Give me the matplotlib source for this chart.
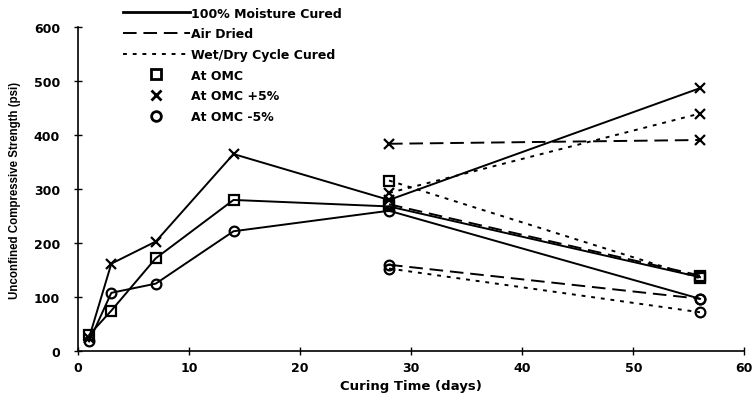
import matplotlib.pyplot as plt
from matplotlib.lines import Line2D

plt.rcParams['font.family'] = ['DejaVu Sans']
plt.rcParams['font.weight'] = 'bold'

# curing times (days)
days_full = [1, 3, 7, 14, 28, 56]
days_late = [28, 56]

# 100% moisture cured
moist_omc = [30, 75, 172, 280, 268, 137]
moist_plus = [25, 162, 203, 365, 280, 487]
moist_minus = [18, 108, 125, 222, 260, 97]

# air dried
air_omc = [272, 140]
air_plus = [384, 391]
air_minus = [160, 97]

# wet/dry cycle cured
wd_omc = [316, 135]
wd_plus = [293, 440]
wd_minus = [153, 72]

x_ticks = [0, 10, 20, 30, 40, 50, 60]
y_ticks = [0, 100, 200, 300, 400, 500, 600]

solid = '-'
dashed = (0, (7, 3.5))
dotted = (0, (2, 3))
lw = 1.4

fig = plt.figure(figsize=(7.53, 4.02), dpi=100)
ax = fig.add_axes([0.1036, 0.124, 0.885, 0.806])

def series(x, y, ls, marker):
    kw = dict(color='black', linestyle=ls, linewidth=lw, marker=marker,
              markersize=7, markeredgewidth=1.6, markerfacecolor='none',
              markeredgecolor='black')
    ax.plot(x, y, **kw)

series(days_full, moist_omc, solid, 's')
series(days_full, moist_plus, solid, 'x')
series(days_full, moist_minus, solid, 'o')
series(days_late, air_omc, dashed, 's')
series(days_late, air_plus, dashed, 'x')
series(days_late, air_minus, dashed, 'o')
series(days_late, wd_omc, dotted, 's')
series(days_late, wd_plus, dotted, 'x')
series(days_late, wd_minus, dotted, 'o')

ax.set_xlim(0, 60)
ax.set_ylim(0, 600)
ax.set_xticks(x_ticks)
ax.set_yticks(y_ticks)
ax.tick_params(direction='inout', length=6, width=1, labelsize=9, pad=4)
ax.tick_params(axis='y', pad=10)
for s in ['top', 'right']:
    ax.spines[s].set_visible(False)
for s in ['left', 'bottom']:
    ax.spines[s].set_linewidth(1.2)

ax.set_xlabel('Curing Time (days)', fontsize=9.5, fontweight='bold', labelpad=4)
ax.set_ylabel('Unconfined Compressive Strength (psi)', fontsize=8.3,
              fontweight='bold', labelpad=9, family='Liberation Sans')

handles = [
    Line2D([], [], color='black', linestyle=solid, linewidth=2),
    Line2D([], [], color='black', linestyle=dashed, linewidth=1.4),
    Line2D([], [], color='black', linestyle=dotted, linewidth=1.4),
    Line2D([], [], color='black', linestyle='none', marker='s', markersize=7,
           markerfacecolor='none', markeredgewidth=2),
    Line2D([], [], color='black', linestyle='none', marker='x', markersize=7,
           markeredgewidth=2),
    Line2D([], [], color='black', linestyle='none', marker='o', markersize=7,
           markerfacecolor='none', markeredgewidth=2),
]
labels = ['100% Moisture Cured', 'Air Dried', 'Wet/Dry Cycle Cured',
          'At OMC', 'At OMC +5%', 'At OMC -5%']
fig.legend(handles, labels, loc='upper left', bbox_to_anchor=(0.153, 1.0),
           frameon=False, handlelength=5.4, handletextpad=0.1,
           labelspacing=0.62, borderaxespad=0.2, prop={'weight': 'bold', 'size': 9})

fig.savefig('out.png', dpi=100)
